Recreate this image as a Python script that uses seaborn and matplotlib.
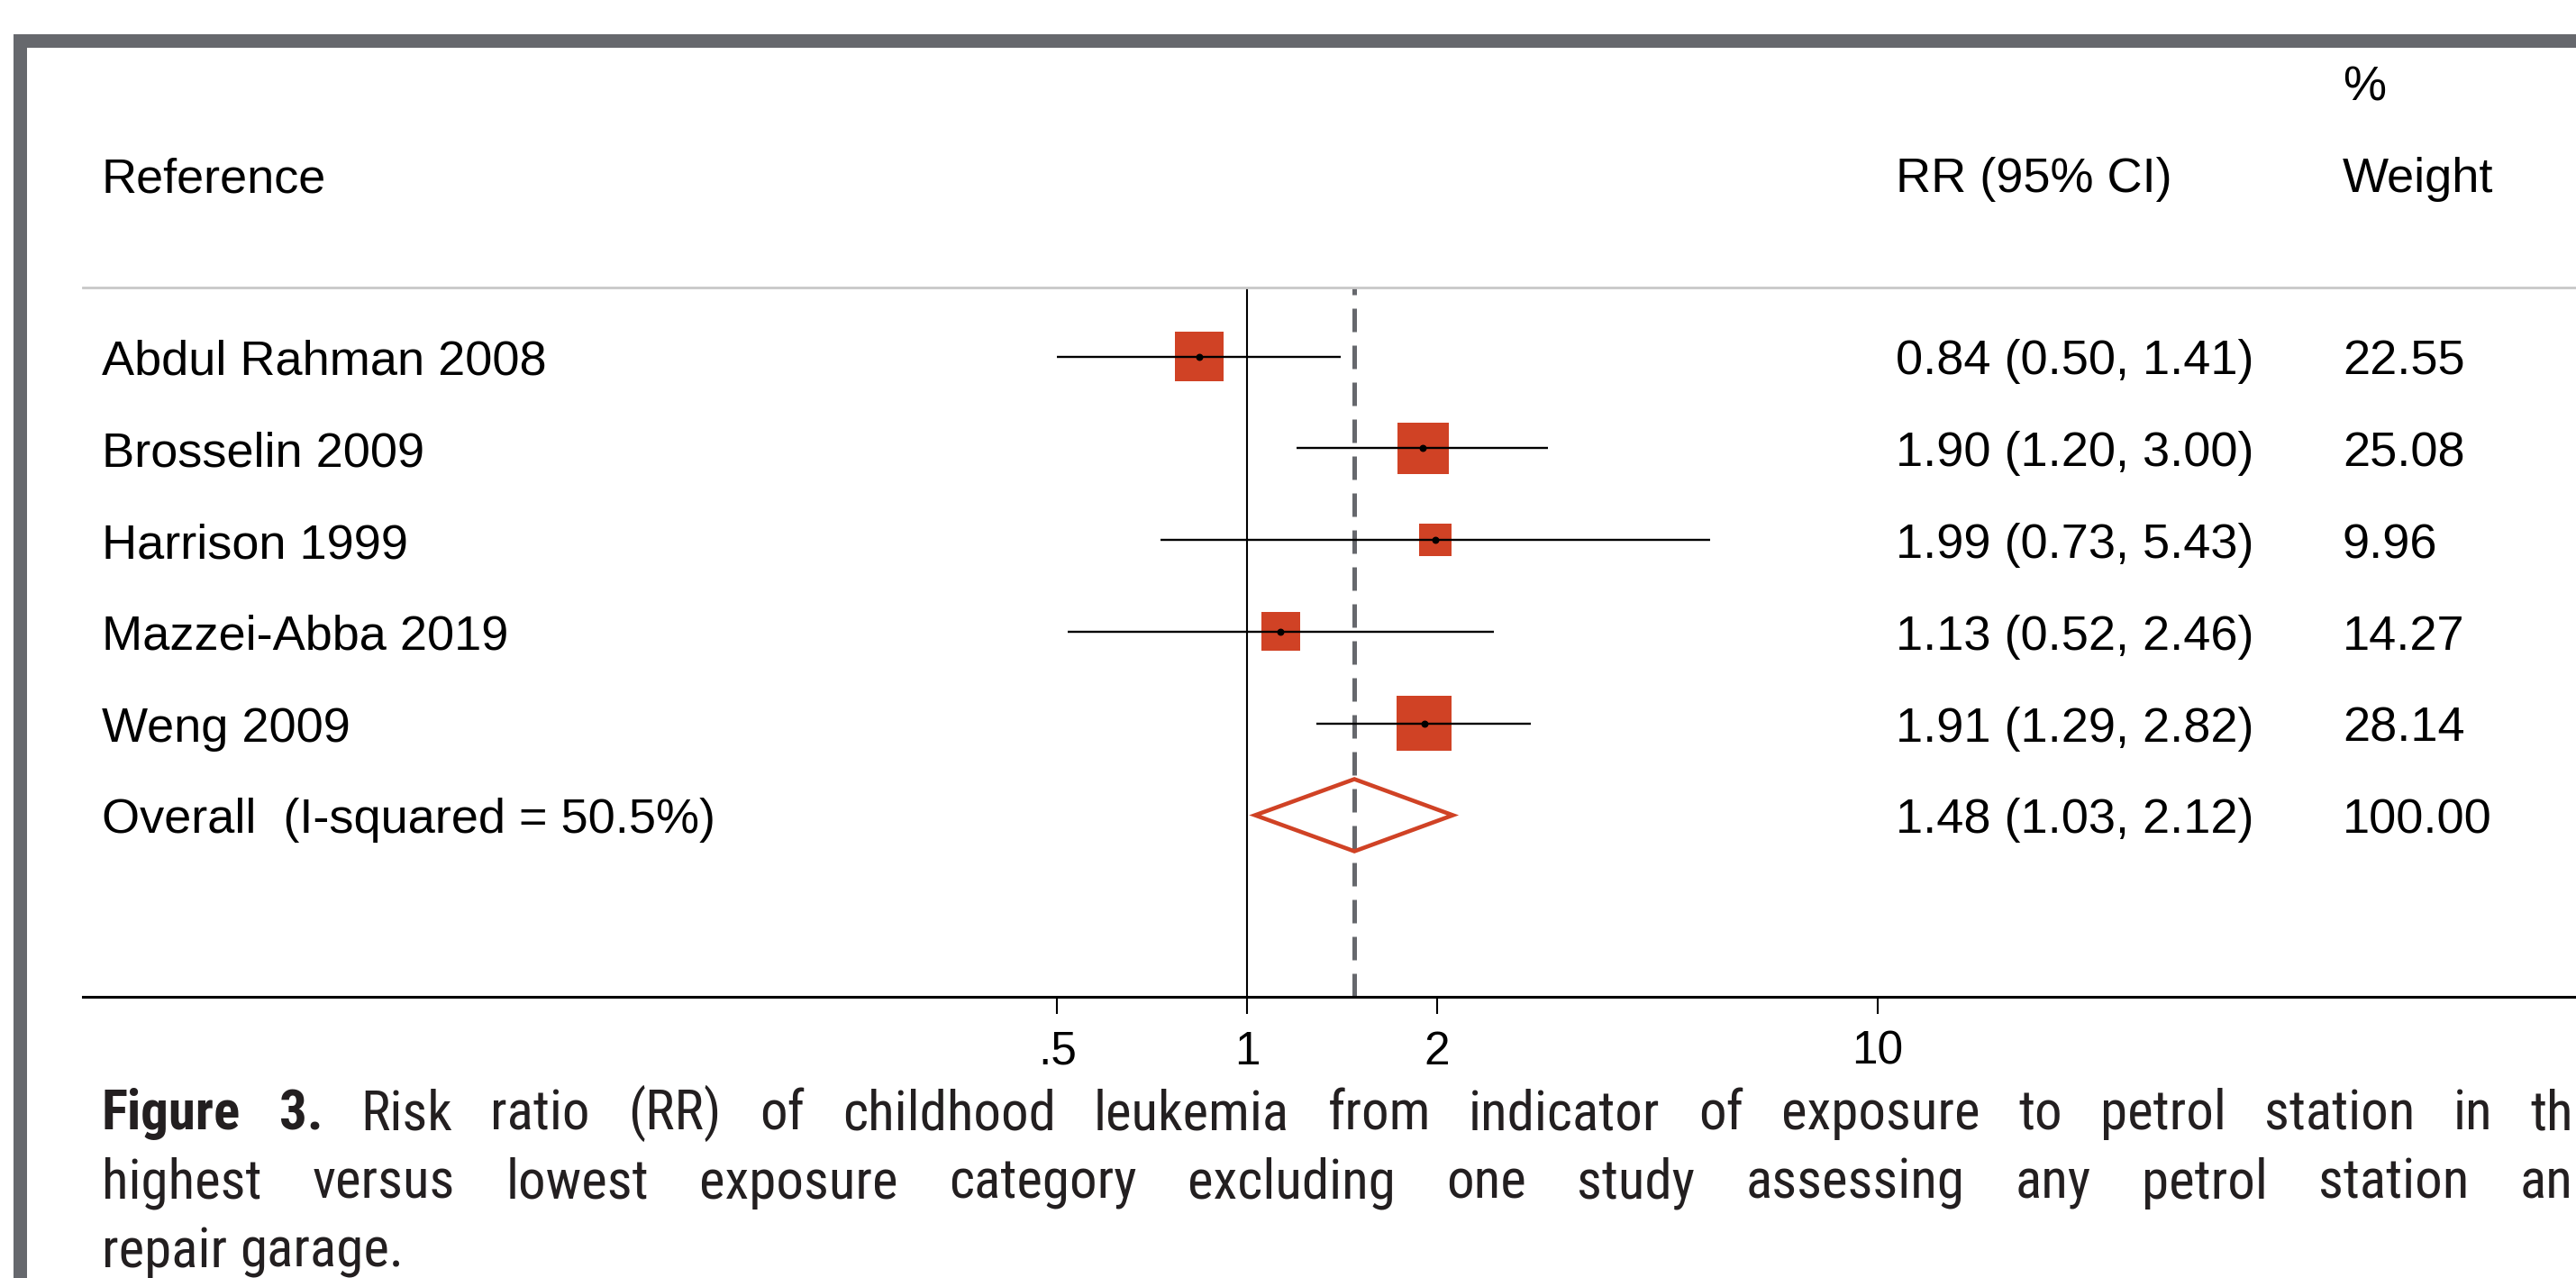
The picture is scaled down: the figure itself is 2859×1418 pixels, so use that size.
import os
import numpy as np
import pandas as pd
import matplotlib
matplotlib.use('Agg')
import matplotlib.pyplot as plt
import matplotlib.transforms as mtransforms
from matplotlib.patches import Rectangle, Polygon
from matplotlib.ticker import NullLocator
from matplotlib import font_manager as fm
import seaborn as sns

# --- data ---
studies = ['Abdul Rahman 2008', 'Brosselin 2009', 'Harrison 1999', 'Mazzei-Abba 2019', 'Weng 2009']
rr = [0.84, 1.90, 1.99, 1.13, 1.91]
ci_low = [0.50, 1.20, 0.73, 0.52, 1.29]
ci_high = [1.41, 3.00, 5.43, 2.46, 2.82]
weights = [22.55, 25.08, 9.96, 14.27, 28.14]

overall_label = 'Overall  (I-squared = 50.5%)'
overall_rr = 1.48
overall_low = 1.03
overall_high = 2.12
overall_weight = 100.00

xticks = [0.5, 1, 2, 10]
xtick_labels = ['.5', '1', '2', '10']

# caption as it shows in the (cropped) figure
caption_lines = [
    'Figure 3. Risk ratio (RR) of childhood leukemia from indicator of exposure to petrol station in th',
    'highest versus lowest exposure category excluding one study assessing any petrol station an',
    'repair garage.',
]
caption_justified = [True, True, False]

# --- style ---
RED = '#d04225'
BORDER = '#66686d'
CAP_COLOR = '#231f20'

sns.set_theme(style='white')
plt.rcParams['font.family'] = ['Liberation Sans', 'DejaVu Sans']


def pick_font(stems):
    files = {os.path.splitext(os.path.basename(f.fname))[0]: f.fname for f in fm.fontManager.ttflist}
    for s in stems:
        if s in files:
            return fm.FontProperties(fname=files[s])
    return None


cap_reg = pick_font(['LiberationSansNarrow-Regular', 'RobotoCondensed-Regular',
                     'NotoSans-Condensed', 'NotoSans-SemiCondensed', 'DejaVuSansCondensed'])
cap_bold = pick_font(['LiberationSansNarrow-Bold', 'RobotoCondensed-Bold',
                      'NotoSans-CondensedBold', 'NotoSans-SemiCondensedBold', 'DejaVuSansCondensed-Bold'])
if cap_reg is None or cap_bold is None:
    cap_reg = fm.FontProperties(family='Liberation Sans')
    cap_bold = fm.FontProperties(family='Liberation Sans', weight='bold')

W, H = 2859, 1418
fig = plt.figure(figsize=(W / 100, H / 100), dpi=100)
fx = lambda px: px / W
fy = lambda py: 1 - py / H

# frame border (cropped on right and bottom)
fig.add_artist(Rectangle((fx(15), fy(53)), 1 - fx(15), 15 / H, transform=fig.transFigure,
                         facecolor=BORDER, linewidth=0))
fig.add_artist(Rectangle((fx(15), 0), 15 / W, fy(38), transform=fig.transFigure,
                         facecolor=BORDER, linewidth=0))

# plot area: rows 0..5 top to bottom
row_top, row_gap = 395.5, 101.8
ax_top, ax_bot, ax_left = 319, 1106, 92
ax = fig.add_axes([fx(ax_left), fy(ax_bot), 1 - fx(ax_left), (ax_bot - ax_top) / H])
ax.set_facecolor('none')

px_per_ln, x_one = 304, 1384
ax.set_xscale('log')
ax.set_xlim(np.exp((ax_left - x_one) / px_per_ln), np.exp((W - x_one) / px_per_ln))
ax.set_ylim((ax_bot - row_top) / row_gap, (ax_top - row_top) / row_gap)

df = pd.DataFrame({'study': studies, 'rr': rr, 'low': ci_low, 'high': ci_high,
                   'weight': weights, 'row': np.arange(len(studies))})

ax.axvline(1, color='black', lw=1.5, zorder=1)
ax.axvline(overall_rr, color=BORDER, lw=3.6, dashes=(5.2, 3.0), zorder=1)

# squares with area proportional to weight
sns.scatterplot(data=df, x='rr', y='row', size='weight',
                sizes={w: 67.4 * w for w in weights}, marker='s', color=RED,
                linewidth=0, legend=False, ax=ax, zorder=3)
ax.hlines(df['row'], df['low'], df['high'], color='black', lw=1.7, zorder=4)
ax.scatter(df['rr'], df['row'], s=22, color='black', zorder=5)

ov_row = len(studies)
half_h = 40 / row_gap
ax.add_patch(Polygon([[overall_low, ov_row], [overall_rr, ov_row - half_h],
                      [overall_high, ov_row], [overall_rr, ov_row + half_h]],
                     closed=True, fill=False, edgecolor=RED, lw=3.3, joinstyle='miter', zorder=4))

ax.set_xlabel('')
ax.set_ylabel('')
ax.set_yticks([])
ax.set_xticks(xticks)
ax.set_xticklabels(xtick_labels)
ax.xaxis.set_minor_locator(NullLocator())
ax.tick_params(axis='x', direction='out', length=13.5, width=1.5, pad=13,
               labelsize=37, colors='black', bottom=True)
for side in ['left', 'right']:
    ax.spines[side].set_visible(False)
ax.spines['top'].set_color('#c8c8c8')
ax.spines['top'].set_linewidth(2)
ax.spines['bottom'].set_color('black')
ax.spines['bottom'].set_linewidth(2.2)

# --- table text ---
FS = 39
fig.text(fx(2600), fy(112), '%', fontsize=FS, va='baseline', color='black')
fig.text(fx(113), fy(213), 'Reference', fontsize=FS, va='baseline', color='black')
fig.text(fx(2104), fy(213), 'RR (95% CI)', fontsize=FS, va='baseline', color='black')
fig.text(fx(2600), fy(213), 'Weight', fontsize=FS, va='baseline', color='black')

trans = mtransforms.blended_transform_factory(fig.transFigure, ax.transData)
base_off = 20 / row_gap
labels = studies + [overall_label]
rr_text = [f'{r:.2f} ({l:.2f}, {h:.2f})' for r, l, h in zip(rr, ci_low, ci_high)]
rr_text.append(f'{overall_rr:.2f} ({overall_low:.2f}, {overall_high:.2f})')
w_text = [f'{w:.2f}' for w in weights] + [f'{overall_weight:.2f}']
for i, (lab, rt, wt) in enumerate(zip(labels, rr_text, w_text)):
    y = i + base_off
    fig.text(fx(113), y, lab, transform=trans, fontsize=FS, va='baseline', color='black')
    fig.text(fx(2104), y, rt, transform=trans, fontsize=FS, va='baseline', color='black')
    fig.text(fx(2600), y, wt, transform=trans, fontsize=FS, va='baseline', color='black')

# --- justified caption ---
renderer = fig.canvas.get_renderer()


def text_width(s, size, bold=False):
    t = fig.text(0, 0, s, fontproperties=cap_bold if bold else cap_reg, fontsize=size)
    w = t.get_window_extent(renderer).width
    t.remove()
    return w


# size the caption font so the unjustified last line keeps its width
cap_size = float(np.clip(10 * 332 / text_width('repair garage.', 10), 39, 47))

cap_left, cap_right = 113, W - 3
baselines = [1253, 1330, 1406]
for li, (line, just, base) in enumerate(zip(caption_lines, caption_justified, baselines)):
    words = line.split(' ')
    bold = [li == 0 and k < 2 for k in range(len(words))]
    widths = [text_width(w, cap_size, b) for w, b in zip(words, bold)]
    if just:
        gap = (cap_right - cap_left - sum(widths)) / (len(words) - 1)
    else:
        gap = text_width('a b', cap_size) - text_width('ab', cap_size)
    x = cap_left
    for w, b, wd in zip(words, bold, widths):
        fig.text(fx(x), fy(base), w, fontproperties=cap_bold if b else cap_reg,
                 fontsize=cap_size, va='baseline', color=CAP_COLOR)
        x += wd + gap

fig.savefig('out.png', dpi=100)
